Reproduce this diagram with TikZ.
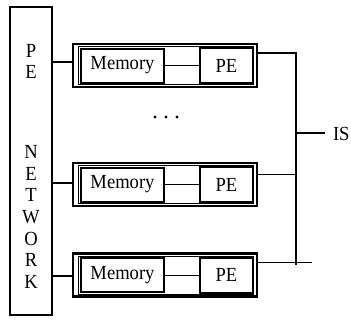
\documentclass[tikz,border=0pt]{standalone}
\usepackage{fontspec}
\setmainfont{Liberation Serif}[FakeStretch=0.93]
\begin{document}
\begin{tikzpicture}[x=1pt,y=-1pt,
  every node/.style={font=\fontsize{20}{21.7}\selectfont, inner sep=0pt, outer sep=0pt},
  netbox/.style={draw, line width=1.8pt, minimum width=42pt, minimum height=308pt},
  unitbox/.style={draw, line width=2.2pt, minimum width=184pt, minimum height=43pt},
  membox/.style={draw, line width=2pt, minimum width=83pt, minimum height=34pt},
  pebox/.style={draw, line width=2pt, minimum width=53pt, minimum height=35pt},
  wire/.style={line width=1.2pt},
  thinwire/.style={line width=1pt}]
\useasboundingbox (0,0) rectangle (351,324);

% interconnection network column
\node[netbox] (net) at (31,161) {};
\node[align=center] (netA) at (31,61.5) {P\\E};
\node[align=center] (netB) at (31,217) {N\\E\\T\\W\\O\\R\\K};

% processing units: memory linked to a PE inside a double-framed block
\foreach \i/\yc in {1/65.5, 2/184.5, 3/275} {
  \node[unitbox] (blk\i) at (165,\yc) {};
  \draw[line width=0.7pt] ([shift={(5,2.5)}]blk\i.north west) rectangle ([shift={(-3.5,-2.5)}]blk\i.south east);
  \node[membox] (mem\i) at (122.5,\yc) {Memory};
  \node[pebox] (pe\i) at (226.5,\yc) {PE};
  \draw[thinwire] (mem\i.east) -- (pe\i.west);
}

% links from the network to each block
\coordinate (l1) at (52,62);
\coordinate (l2) at (52,183);
\coordinate (l3) at (52,276);
\draw[wire] (net.east |- l1) -- (blk1.west |- l1);
\draw[wire] (net.east |- l2) -- (blk2.west |- l2);
\draw[wire] (net.east |- l3) -- (blk3.west |- l3);

% ellipsis between the first and second blocks
\foreach \x in {155,166,177} \fill (\x,117) circle (1.6pt);

% shared bus on the right
\coordinate (bt) at (296,53);
\coordinate (bb) at (296,265);
\coordinate (r2) at (296,174);
\coordinate (r3) at (312,262);
\coordinate (ist) at (296,133);
\draw[wire] (blk1.east |- bt) -- (bt) -- (bb);
\draw[thinwire] (blk2.east |- r2) -- (r2);
\draw[thinwire] (blk3.east |- r3) -- (r3);
\node[anchor=west] (is) at (333,133.5) {IS};
\draw[wire] (ist) -- (325,133);
\end{tikzpicture}
\end{document}
